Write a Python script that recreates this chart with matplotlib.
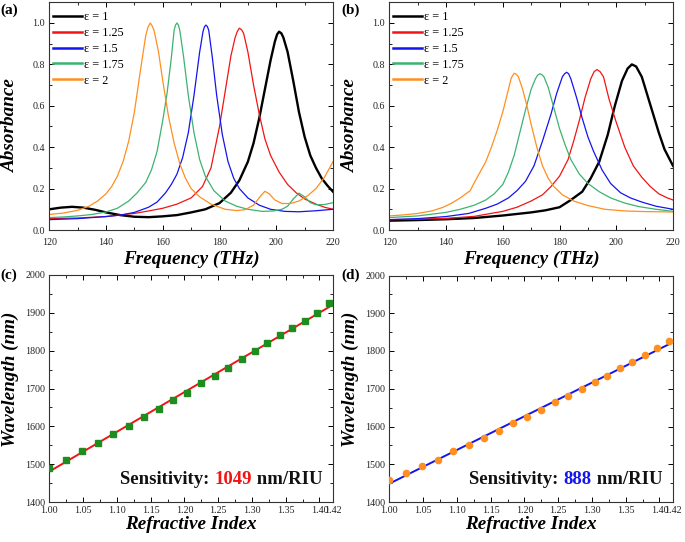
import numpy as np
import matplotlib
matplotlib.use("Agg")
import matplotlib.pyplot as plt
from matplotlib.ticker import MultipleLocator, FixedLocator

plt.rcParams['font.family'] = ['Liberation Serif', 'DejaVu Serif']

# ---------------- data ----------------
labels = ["ε = 1", "ε = 1.25", "ε = 1.5", "ε = 1.75", "ε = 2"]
colors = ["#000000", "#f21414", "#1414ee", "#3cb371", "#ff8f1f"]
widths = [1.7, 0.9, 0.9, 0.9, 0.9]

# panel (a)
a_f1 = [120, 124, 128, 132, 136, 140, 145, 150, 155, 160, 165, 170, 175, 180, 184, 187, 190, 192, 194, 196, 198, 199.5, 200.3, 201, 201.8, 202.5, 204, 206, 208, 210, 212, 214, 216, 218, 220]
a_A1 = [0.10, 0.108, 0.112, 0.108, 0.098, 0.085, 0.072, 0.064, 0.062, 0.066, 0.072, 0.085, 0.10, 0.13, 0.18, 0.24, 0.33, 0.42, 0.54, 0.68, 0.82, 0.91, 0.945, 0.958, 0.95, 0.93, 0.86, 0.72, 0.57, 0.45, 0.36, 0.30, 0.25, 0.215, 0.185]
a_f2 = [120, 130, 140, 150, 155, 160, 165, 170, 174, 177, 180, 182, 184, 185.5, 186.3, 187, 187.8, 188.5, 190, 192, 194, 196, 198, 201, 204, 207, 210, 214, 217, 220]
a_A2 = [0.055, 0.058, 0.065, 0.08, 0.092, 0.105, 0.125, 0.155, 0.21, 0.30, 0.50, 0.67, 0.84, 0.93, 0.96, 0.975, 0.967, 0.95, 0.86, 0.70, 0.56, 0.44, 0.36, 0.28, 0.22, 0.18, 0.15, 0.125, 0.11, 0.10]
a_f3 = [120, 130, 140, 145, 150, 155, 158, 161, 163, 165, 167, 169, 171, 173, 174.2, 174.7, 175.2, 175.7, 176.2, 177.5, 179, 181, 183, 185, 187, 190, 194, 198, 203, 208, 214, 220]
a_A3 = [0.05, 0.055, 0.065, 0.072, 0.085, 0.11, 0.135, 0.18, 0.22, 0.27, 0.35, 0.47, 0.65, 0.86, 0.96, 0.982, 0.99, 0.983, 0.965, 0.83, 0.65, 0.46, 0.33, 0.25, 0.20, 0.155, 0.12, 0.10, 0.09, 0.088, 0.093, 0.10]
a_f4 = [120, 125, 130, 135, 140, 144, 148, 151, 154, 156, 158, 160, 161.5, 163, 164, 164.5, 165, 165.5, 166, 167.3, 169, 171, 173, 175, 178, 182, 186, 190, 195, 199, 202, 204, 206, 208, 210, 212, 214, 217, 220]
a_A4 = [0.06, 0.063, 0.068, 0.075, 0.087, 0.105, 0.14, 0.18, 0.23, 0.29, 0.38, 0.53, 0.66, 0.83, 0.965, 0.99, 1.0, 0.99, 0.965, 0.84, 0.65, 0.47, 0.34, 0.26, 0.19, 0.14, 0.115, 0.10, 0.09, 0.092, 0.10, 0.115, 0.15, 0.178, 0.16, 0.132, 0.122, 0.123, 0.132]
a_f5 = [120, 125, 130, 134, 137, 140, 142, 144, 146, 148, 150, 152, 154, 154.8, 155.6, 156.3, 157, 158.5, 160, 162, 164, 166, 168, 170, 173, 177, 182, 186, 189, 192, 194.5, 196, 197.5, 199.5, 202, 205, 208, 211, 214, 217, 220]
a_A5 = [0.075, 0.082, 0.095, 0.115, 0.14, 0.175, 0.21, 0.26, 0.33, 0.43, 0.57, 0.76, 0.94, 0.98, 1.0, 0.985, 0.96, 0.86, 0.72, 0.55, 0.42, 0.32, 0.25, 0.20, 0.16, 0.125, 0.10, 0.094, 0.098, 0.12, 0.165, 0.187, 0.175, 0.145, 0.128, 0.128, 0.14, 0.165, 0.20, 0.255, 0.33]

# panel (b)
b_f1 = [120, 130, 140, 150, 160, 170, 175, 180, 184, 188, 191, 194, 197, 199.5, 202, 204, 205.5, 207, 209, 211, 213, 215, 217, 220]
b_A1 = [0.045, 0.048, 0.052, 0.058, 0.07, 0.085, 0.095, 0.11, 0.145, 0.185, 0.25, 0.33, 0.46, 0.60, 0.72, 0.78, 0.80, 0.79, 0.74, 0.65, 0.56, 0.47, 0.39, 0.31]
b_f2 = [120, 130, 140, 150, 160, 165, 170, 174, 177, 180, 183, 185, 187, 189, 191, 192.2, 193.2, 194.3, 195.5, 197.5, 200, 203, 206, 209, 212, 215, 218, 220]
b_A2 = [0.05, 0.052, 0.056, 0.066, 0.09, 0.11, 0.14, 0.17, 0.21, 0.26, 0.34, 0.43, 0.53, 0.64, 0.73, 0.765, 0.775, 0.765, 0.74, 0.63, 0.52, 0.40, 0.31, 0.255, 0.21, 0.175, 0.155, 0.145]
b_f3 = [120, 130, 140, 148, 154, 158, 162, 165, 168, 171, 174, 177, 179, 181, 181.8, 182.5, 183.2, 184, 186, 188, 190, 192, 195, 198, 201.5, 205, 209, 214, 220]
b_A3 = [0.05, 0.055, 0.065, 0.08, 0.105, 0.125, 0.155, 0.19, 0.235, 0.31, 0.43, 0.56, 0.66, 0.74, 0.755, 0.762, 0.755, 0.73, 0.64, 0.54, 0.45, 0.38, 0.29, 0.225, 0.18, 0.155, 0.135, 0.115, 0.10]
b_f4 = [120, 130, 140, 145, 150, 154, 157, 160, 162, 164, 166, 168, 170, 171.5, 172.3, 173.1, 173.8, 174.5, 176, 178, 180, 182, 184, 187, 190, 194, 198, 203, 208, 214, 220]
b_A4 = [0.06, 0.068, 0.085, 0.10, 0.12, 0.145, 0.175, 0.22, 0.28, 0.36, 0.47, 0.58, 0.68, 0.73, 0.748, 0.755, 0.75, 0.74, 0.69, 0.59, 0.49, 0.41, 0.34, 0.27, 0.225, 0.185, 0.155, 0.13, 0.113, 0.10, 0.09]
b_f5 = [120, 125, 130, 135, 139, 142, 145, 147.5, 148.5, 150, 152, 154, 156, 158, 160, 162, 163, 164, 164.8, 165.5, 167, 168.5, 170, 172, 174, 176, 178, 181, 185, 190, 196, 203, 210, 220]
b_A5 = [0.068, 0.073, 0.08, 0.092, 0.11, 0.13, 0.155, 0.18, 0.19, 0.23, 0.28, 0.33, 0.40, 0.48, 0.57, 0.68, 0.735, 0.757, 0.752, 0.74, 0.68, 0.60, 0.51, 0.40, 0.31, 0.25, 0.21, 0.17, 0.14, 0.118, 0.10, 0.092, 0.089, 0.087]

a_curves = [(a_f1, a_A1), (a_f2, a_A2), (a_f3, a_A3), (a_f4, a_A4), (a_f5, a_A5)]
b_curves = [(b_f1, b_A1), (b_f2, b_A2), (b_f3, b_A3), (b_f4, b_A4), (b_f5, b_A5)]

# panels (c) and (d): resonance wavelength vs refractive index
n_index = [1.000, 1.025, 1.049, 1.072, 1.095, 1.118, 1.140, 1.162, 1.183, 1.204, 1.225,
           1.245, 1.265, 1.285, 1.304, 1.323, 1.342, 1.360, 1.378, 1.396, 1.414]
wl_c = [1490, 1512, 1536, 1556, 1579, 1602, 1624, 1646, 1669, 1689, 1714,
        1732, 1754, 1777, 1798, 1821, 1842, 1859, 1879, 1899, 1926]
wl_d = [1458, 1478, 1495, 1512, 1535, 1550, 1570, 1589, 1608, 1624, 1643,
        1664, 1682, 1700, 1717, 1735, 1754, 1772, 1790, 1808, 1826]
sens_c = "1049"
sens_d = "888"

# ---------------- figure ----------------
W, H = 685, 542
fig = plt.figure(figsize=(W / 100, H / 100), dpi=100)

def px_axes(l, t, r, b):
    return fig.add_axes([l / W, 1 - b / H, (r - l) / W, (b - t) / H])

def style(ax, xpad):
    ax.tick_params(which='both', direction='in', top=True, right=True,
                   labelsize=7.2, labelcolor='#222222', pad=3)
    ax.tick_params(axis='x', which='major', pad=xpad)
    ax.tick_params(which='major', length=3.5, width=0.7)
    ax.tick_params(which='minor', length=2, width=0.6)
    for s in ax.spines.values():
        s.set_linewidth(0.8)
        s.set_color('#333333')

lab_font = dict(fontsize=13.8, fontweight='bold', fontstyle='italic')

def absorb_panel(ax, curves):
    for (f, A), c, lw, lb in zip(curves, colors, widths, labels):
        ax.plot(f, A, color=c, lw=lw, label=lb, solid_joinstyle='round')
    ax.set_xlim(120, 220)
    ax.set_ylim(0, 1.1)
    ax.xaxis.set_major_locator(MultipleLocator(20))
    ax.xaxis.set_minor_locator(MultipleLocator(10))
    ax.yaxis.set_major_locator(FixedLocator([0, 0.2, 0.4, 0.6, 0.8, 1.0]))
    ax.yaxis.set_minor_locator(MultipleLocator(0.1))
    ax.set_xlabel("Frequency (THz)", **lab_font)
    ax.set_ylabel("Absorbance", **lab_font)
    ax.xaxis.set_label_coords(0.5, -0.09)
    ax.yaxis.set_label_coords(-0.108, 0.46)
    style(ax, 6)
    leg = ax.legend(loc='upper left', frameon=False, fontsize=8.8, handlelength=2.3,
                    handletextpad=0.22, labelspacing=0.32, borderaxespad=0.0,
                    borderpad=0.34, bbox_to_anchor=(0.0, 0.98))
    for h in leg.get_lines():
        h.set_linewidth(1.8)

def sens_panel(ax, y, mk, mc, lc, sval):
    k, b0 = np.polyfit(n_index, y, 1)
    xs = np.array([n_index[0], n_index[-1]])
    ax.plot(xs, k * xs + b0, color=lc, lw=1.4, zorder=2)
    ax.plot(n_index, y, mk, color=mc, ms=4.5, ls='none', zorder=3)
    ax.set_xlim(1.0, 1.42)
    ax.set_ylim(1400, 2000)
    ax.xaxis.set_major_locator(FixedLocator([1.00, 1.05, 1.10, 1.15, 1.20, 1.25, 1.30, 1.35, 1.40, 1.42]))
    ax.xaxis.set_minor_locator(FixedLocator([1.025, 1.075, 1.125, 1.175, 1.225, 1.275, 1.325, 1.375]))
    ax.yaxis.set_major_locator(MultipleLocator(100))
    ax.yaxis.set_minor_locator(MultipleLocator(50))
    ax.xaxis.set_major_formatter(plt.FuncFormatter(lambda v, p: "%.2f" % v))
    ax.set_xlabel("Refractive Index", **lab_font)
    ax.set_ylabel("Wavelength (nm)", **lab_font)
    ax.xaxis.set_label_coords(0.5, -0.062)
    ax.yaxis.set_label_coords(-0.108, 0.54)
    style(ax, 3)
    # sensitivity text, right aligned, built from the right end
    t3 = ax.text(0.962, 0.10, " nm/RIU", transform=ax.transAxes, fontsize=13.5,
                 fontweight='bold', color='#111111', va='center', ha='right')
    fig.canvas.draw()
    t2 = ax.annotate(sval, xycoords=t3, xy=(0, 0), va='bottom', ha='right',
                     fontsize=13.5, fontweight='bold', color=lc)
    fig.canvas.draw()
    ax.annotate("Sensitivity: ", xycoords=t2, xy=(0, 0), va='bottom', ha='right',
                fontsize=13.5, fontweight='bold', color='#111111')

ax_a = px_axes(49.3, 2.3, 333, 230)
ax_b = px_axes(389.3, 2.3, 673, 230)
ax_c = px_axes(49.3, 275, 333, 502)
ax_d = px_axes(389.3, 275.5, 673, 502)

absorb_panel(ax_a, a_curves)
absorb_panel(ax_b, b_curves)
sens_panel(ax_c, wl_c, 's', '#1e8c1e', '#f21414', sens_c)
sens_panel(ax_d, wl_d, 'o', '#ff9020', '#1414ee', sens_d)

for txt, x, y in [("(a)", 0, 10), ("(b)", 341, 10), ("(c)", 0, 275), ("(d)", 341, 275)]:
    fig.text(x / W, 1 - y / H, txt, fontsize=11, fontweight='bold', va='center', ha='left')

fig.savefig("out.png", dpi=100)
